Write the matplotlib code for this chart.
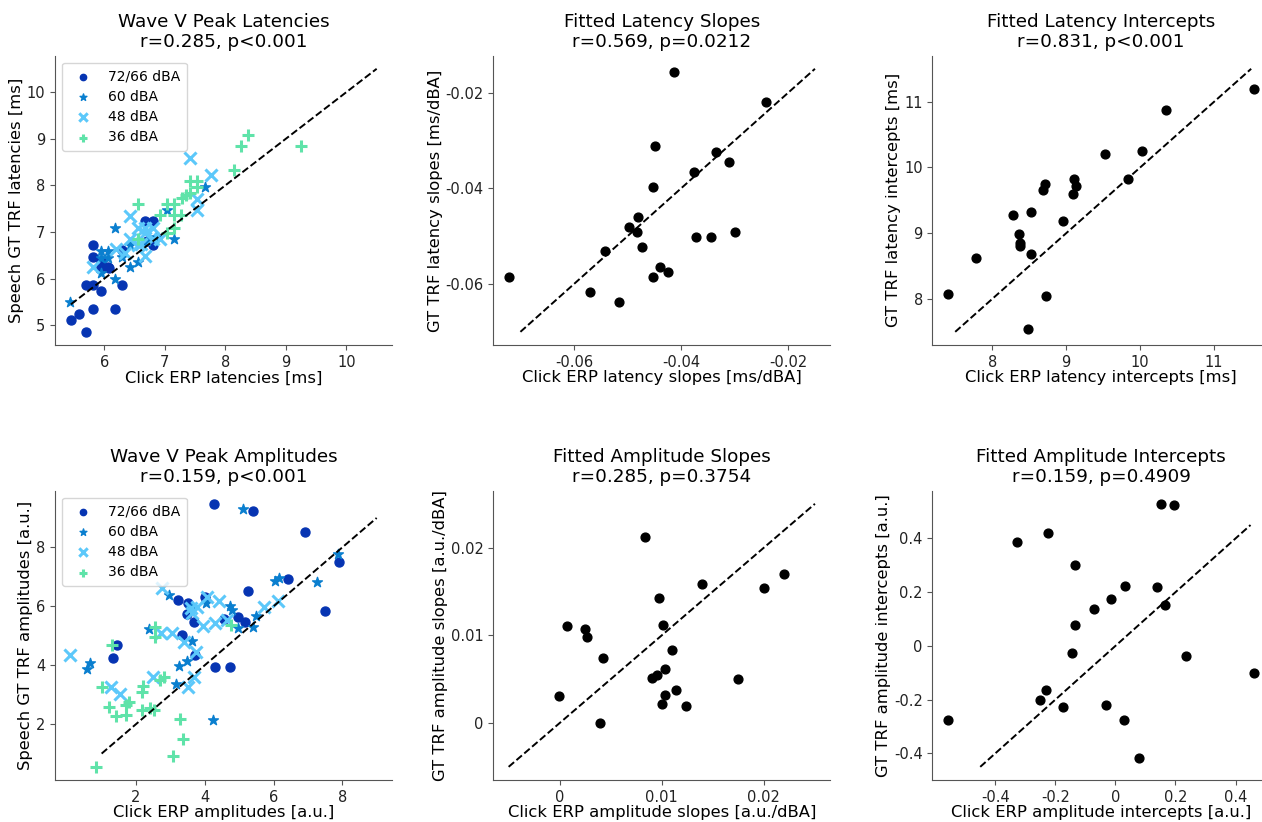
import numpy as np
import matplotlib
matplotlib.use('Agg')
import matplotlib.pyplot as plt
from matplotlib.ticker import FuncFormatter

plt.rcParams['axes.unicode_minus'] = False
plt.rcParams['font.family'] = 'DejaVu Sans'

levels = ['72/66 dBA', '60 dBA', '48 dBA', '36 dBA']
markers = ['o', '*', 'x', '+']
colors = ['#0634b2', '#0a7fcf', '#5cc8fa', '#5fe3a9']

# wave V latencies (click ERP vs speech GT TRF), per level
lat_click = [
    [5.82, 5.82, 5.95, 6.06, 5.95, 6.30, 6.67, 6.80, 6.80, 6.70, 5.70, 5.82, 5.95, 6.30, 5.82, 6.18, 5.45, 5.58, 5.70, 6.08],
    [5.44, 6.18, 7.04, 7.66, 7.15, 6.18, 6.42, 6.55, 6.42, 5.95, 6.06, 5.95, 6.06, 6.30, 5.95, 6.70, 6.85],
    [7.41, 7.77, 7.54, 7.54, 6.42, 6.55, 6.67, 6.80, 6.67, 6.42, 6.55, 6.67, 6.92, 6.19, 5.82, 6.80, 6.35, 6.60],
    [8.38, 8.26, 9.25, 8.14, 7.41, 7.54, 7.41, 7.29, 7.16, 7.04, 6.55, 6.92, 7.16, 7.26, 7.04, 7.16, 6.55, 7.54, 7.35],
]
lat_speech = [
    [6.72, 6.47, 6.24, 6.24, 6.38, 6.61, 7.23, 7.23, 6.72, 6.80, 5.86, 5.86, 5.73, 5.86, 5.36, 5.36, 5.11, 5.24, 4.86, 6.22],
    [5.49, 7.09, 7.47, 7.97, 6.84, 5.99, 6.24, 6.36, 6.73, 6.59, 6.59, 6.45, 6.45, 6.47, 6.13, 6.80, 6.90],
    [8.59, 8.23, 7.71, 7.47, 7.34, 7.09, 7.09, 7.09, 6.97, 6.84, 6.73, 6.48, 6.84, 6.63, 6.24, 6.84, 6.55, 6.75],
    [9.09, 8.84, 8.84, 8.34, 8.09, 8.09, 7.84, 7.74, 7.61, 7.61, 7.61, 7.36, 7.36, 7.36, 6.99, 7.09, 6.84, 7.96, 7.80],
]

# wave V amplitudes
amp_click = [
    [4.26, 5.41, 6.91, 7.90, 7.51, 6.43, 5.26, 4.96, 5.18, 4.57, 4.00, 3.21, 3.51, 3.49, 3.68, 3.34, 3.71, 4.31, 4.72, 1.45, 1.33],
    [5.12, 7.88, 7.27, 6.04, 6.16, 5.50, 5.41, 4.96, 4.80, 4.04, 2.95, 2.39, 3.63, 3.49, 3.26, 3.15, 4.24, 0.67, 0.57, 3.60, 4.72],
    [0.09, 2.76, 4.07, 4.41, 3.61, 3.78, 3.63, 3.94, 4.31, 4.65, 5.72, 6.14, 2.74, 3.05, 3.39, 3.75, 2.50, 3.68, 3.51, 1.28, 1.52],
    [2.56, 2.56, 1.30, 4.77, 1.01, 2.20, 2.17, 2.81, 2.71, 1.20, 1.43, 1.72, 1.79, 1.70, 2.17, 2.40, 2.51, 3.27, 3.37, 3.07, 0.83],
]
amp_speech = [
    [9.48, 9.24, 8.52, 7.49, 5.85, 6.93, 6.52, 5.65, 5.48, 5.56, 6.33, 6.22, 6.10, 5.74, 5.48, 5.03, 4.35, 3.93, 3.95, 4.69, 4.23],
    [9.31, 7.77, 6.82, 6.86, 6.95, 5.68, 5.29, 5.27, 5.88, 6.10, 6.39, 5.22, 4.83, 4.15, 3.98, 3.35, 2.14, 4.06, 3.86, 5.95, 6.00],
    [4.35, 6.61, 6.33, 6.19, 5.93, 5.99, 5.76, 5.34, 5.42, 5.54, 5.99, 6.19, 5.08, 5.08, 4.80, 4.46, 3.61, 3.61, 3.25, 3.25, 3.02],
    [5.31, 4.95, 4.69, 5.37, 3.27, 3.29, 3.10, 3.59, 3.50, 2.57, 2.27, 2.31, 2.76, 2.65, 2.48, 2.56, 2.48, 2.19, 1.48, 0.92, 0.55],
]

# per-subject fitted slopes / intercepts
lat_slope_click = [-0.0414, -0.0242, -0.0449, -0.0335, -0.0310, -0.0376, -0.0452, -0.0480, -0.0497, -0.0483, -0.0473,
                   -0.0542, -0.0373, -0.0345, -0.0300, -0.0439, -0.0424, -0.0452, -0.0722, -0.0570, -0.0515]
lat_slope_speech = [-0.0156, -0.0219, -0.0312, -0.0324, -0.0345, -0.0366, -0.0397, -0.0460, -0.0481, -0.0491, -0.0522,
                    -0.0532, -0.0501, -0.0501, -0.0491, -0.0564, -0.0575, -0.0585, -0.0585, -0.0616, -0.0637]

lat_int_click = [11.54, 10.35, 10.02, 9.52, 9.84, 9.10, 9.13, 9.09, 8.72, 8.69, 8.28, 8.52, 8.96, 8.36, 8.37, 8.37,
                 8.53, 7.78, 7.40, 8.73, 8.49]
lat_int_speech = [11.19, 10.88, 10.25, 10.21, 9.83, 9.82, 9.72, 9.59, 9.75, 9.66, 9.28, 9.33, 9.18, 8.99, 8.85, 8.80,
                  8.69, 8.62, 8.07, 8.04, 7.54]

amp_slope_click = [0.0084, 0.0220, 0.0200, 0.0139, 0.0097, 0.0101, 0.00075, 0.0025, 0.00266, 0.00428, 0.0110,
                   0.01028, 0.00908, 0.0095, 0.0175, 0.01135, 0.01028, 0.01005, 0.01235, -0.00003, 0.00395]
amp_slope_speech = [0.0212, 0.0170, 0.01535, 0.0158, 0.01425, 0.0112, 0.01105, 0.0107, 0.0098, 0.00747, 0.00827,
                    0.00621, 0.00518, 0.00545, 0.00507, 0.00373, 0.00316, 0.00217, 0.00194, 0.00309, -0.00004]

amp_int_click = [0.151, 0.194, -0.223, -0.328, -0.135, 0.031, 0.139, -0.014, 0.164, -0.072, -0.133, -0.144, 0.234,
                 0.462, -0.230, -0.251, -0.174, -0.030, 0.030, -0.558, 0.077]
amp_int_speech = [0.529, 0.524, 0.420, 0.385, 0.301, 0.223, 0.218, 0.175, 0.151, 0.136, 0.077, -0.025, -0.036,
                  -0.102, -0.165, -0.203, -0.228, -0.218, -0.274, -0.275, -0.417]

# unity line extents
unity = [[5.45, 10.5], [-0.07, -0.015], [7.5, 11.5], [1, 9], [-0.005, 0.025], [-0.45, 0.45]]

titles = ['Wave V Peak Latencies\nr=0.285, p<0.001', 'Fitted Latency Slopes\nr=0.569, p=0.0212',
          'Fitted Latency Intercepts\nr=0.831, p<0.001', 'Wave V Peak Amplitudes\nr=0.159, p<0.001',
          'Fitted Amplitude Slopes\nr=0.285, p=0.3754', 'Fitted Amplitude Intercepts\nr=0.159, p=0.4909']
xlabels = ['Click ERP latencies [ms]', 'Click ERP latency slopes [ms/dBA]', 'Click ERP latency intercepts [ms]',
           'Click ERP amplitudes [a.u.]', 'Click ERP amplitude slopes [a.u./dBA]', 'Click ERP amplitude intercepts [a.u.]']
ylabels = ['Speech GT TRF latencies [ms]', 'GT TRF latency slopes [ms/dBA]', 'GT TRF latency intercepts [ms]',
           'Speech GT TRF amplitudes [a.u.]', 'GT TRF amplitude slopes [a.u./dBA]', 'GT TRF amplitude intercepts [a.u.]']
xticks = [[6, 7, 8, 9, 10], [-0.06, -0.04, -0.02], [8, 9, 10, 11], [2, 4, 6, 8], [0, 0.01, 0.02], [-0.4, -0.2, 0, 0.2, 0.4]]
yticks = [[5, 6, 7, 8, 9, 10], [-0.06, -0.04, -0.02], [8, 9, 10, 11], [2, 4, 6, 8], [0, 0.01, 0.02], [-0.4, -0.2, 0, 0.2, 0.4]]

fig = plt.figure(figsize=(12.62, 8.22), dpi=100)
lefts = [0.0436, 0.3909, 0.7389]
bottoms = [0.5803, 0.0511]
axs = []
for r in range(2):
    for c in range(3):
        axs.append(fig.add_axes([lefts[c], bottoms[r], 0.267, 0.352]))

def grouped(ax, xs, ys):
    for i in range(4):
        lw = 2.2 if markers[i] in ('x', '+') else None
        s = 75 if markers[i] in ('x', '+') else (55 if markers[i] == '*' else 42)
        ax.scatter(xs[i], ys[i], marker=markers[i], color=colors[i], s=s, linewidths=lw, label=levels[i])
    ax.legend(loc='upper left', fontsize=10, markerscale=0.7, borderpad=0.5, labelspacing=0.45)

grouped(axs[0], lat_click, lat_speech)
grouped(axs[3], amp_click, amp_speech)
axs[1].scatter(lat_slope_click, lat_slope_speech, color='k', s=40)
axs[2].scatter(lat_int_click, lat_int_speech, color='k', s=40)
axs[4].scatter(amp_slope_click, amp_slope_speech, color='k', s=40)
axs[5].scatter(amp_int_click, amp_int_speech, color='k', s=40)

fmt = FuncFormatter(lambda v, p: '%g' % v)
for k, ax in enumerate(axs):
    ax.plot(unity[k], unity[k], '--k', lw=1.4)
    ax.set_title(titles[k], fontsize=13.2)
    ax.set_xlabel(xlabels[k], fontsize=11.8, labelpad=0.5)
    ax.set_ylabel(ylabels[k], fontsize=11.8, labelpad=2)
    ax.set_xticks(xticks[k])
    ax.set_yticks(yticks[k])
    ax.xaxis.set_major_formatter(fmt)
    ax.yaxis.set_major_formatter(fmt)
    ax.tick_params(labelsize=10.5, colors='#555555', labelcolor='#222222')
    for sp in ['top', 'right']:
        ax.spines[sp].set_visible(False)
    for sp in ['left', 'bottom']:
        ax.spines[sp].set_color('#555555')

plt.savefig('out.png', dpi=100)
